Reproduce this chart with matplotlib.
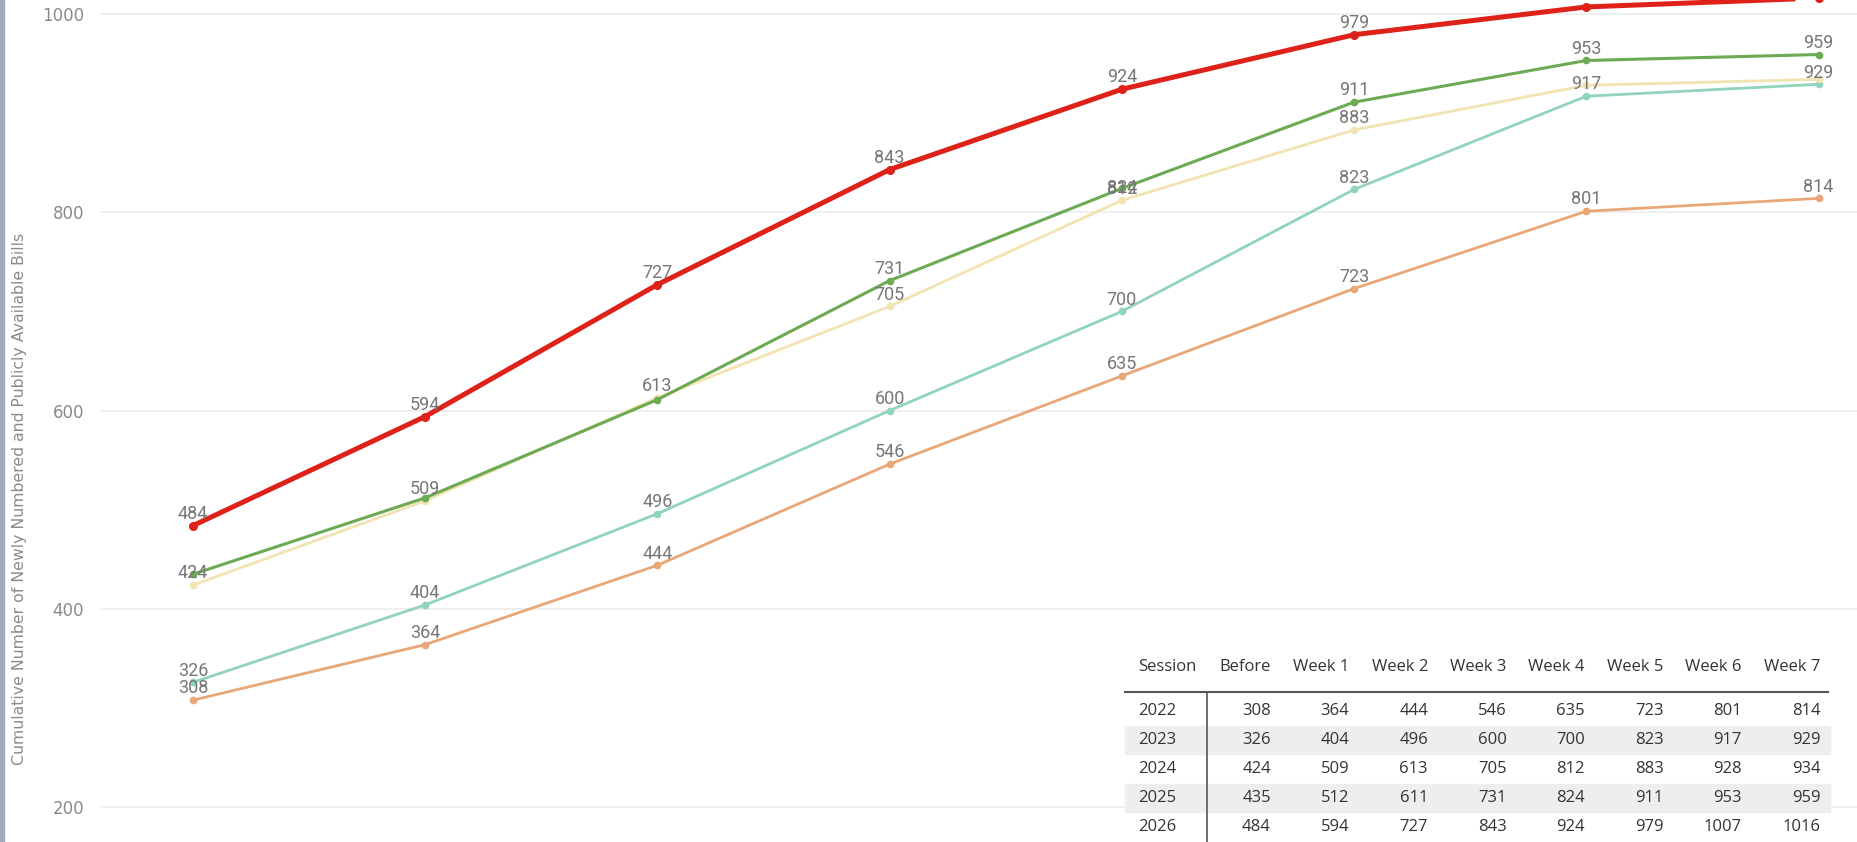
import matplotlib.pyplot as plt
from matplotlib.patches import Rectangle

# data
weeks = ['Before', 'Week 1', 'Week 2', 'Week 3', 'Week 4', 'Week 5', 'Week 6', 'Week 7']
sessions = ['2022', '2023', '2024', '2025', '2026']
s2022 = [308, 364, 444, 546, 635, 723, 801, 814]
s2023 = [326, 404, 496, 600, 700, 823, 917, 929]
s2024 = [424, 509, 613, 705, 812, 883, 928, 934]
s2025 = [435, 512, 611, 731, 824, 911, 953, 959]
s2026 = [484, 594, 727, 843, 924, 979, 1007, 1016]
y_ticks = [200, 400, 600, 800, 1000]

series = [s2022, s2023, s2024, s2025, s2026]
colors = ['#E9A676', '#90D4BB', '#F2E3B2', '#6CAA54', '#DE2119']
widths = [2.0, 2.0, 2.0, 2.2, 3.6]
# labels the original hides (overlapping points)
hidden = {('2025', 0), ('2025', 1), ('2025', 2), ('2024', 6), ('2024', 7)}
# labels drawn on the point instead of above it
centred = {('2025', 4)}

fig = plt.figure(figsize=(18.58, 8.42), dpi=100)
fig.patch.set_facecolor('white')
ax = fig.add_axes([100 / 1858, 0, 1 - 100 / 1858, 1])

x = list(range(len(weeks)))
for name, vals, c, lw in zip(sessions, series, colors, widths):
    ax.plot(x, vals, color=c, lw=lw, marker='o', ms=4.5 if lw < 3 else 5.5,
            mec=c, mfc=c, clip_on=False, zorder=3 if name == '2026' else 2)
    for i, v in enumerate(vals):
        if (name, i) in hidden:
            continue
        if (name, i) in centred:
            ax.annotate(str(v), (i, v), xytext=(0, 0), textcoords='offset points',
                        ha='center', va='center', fontsize=13, color='#777777',
                        family='Roboto', zorder=4)
        else:
            ax.annotate(str(v), (i, v), xytext=(0, 2), textcoords='offset points',
                        ha='center', va='bottom', fontsize=13, color='#777777',
                        family='Roboto', zorder=4)

ax.set_xlim(-0.4, 7.17)
ax.set_ylim(165, 1014)
ax.set_yticks(y_ticks)
ax.set_xticks([])
ax.grid(axis='y', color='#ececec', lw=1.2)
ax.set_axisbelow(True)
for sp in ax.spines.values():
    sp.set_visible(False)
ax.tick_params(axis='y', length=0, pad=11.5, labelsize=12, labelcolor='#8a8a8a')

fig.text(20 / 1858, 1 - 499 / 842, 'Cumulative Number of Newly Numbered and Publicly Available Bills',
         rotation=90, ha='center', va='center', fontsize=11.3, color='#8a8a8a')

# left border strip
fig.patches.append(Rectangle((0, 0), 4 / 1858, 1, transform=fig.transFigure,
                             color='#a3a9ba', zorder=0))

# data table in the bottom right corner
W, H = 1858, 842
tf = 'Open Sans'
fs = 12
col_right = [1271 + 78.5 * k for k in range(len(weeks))]
row_y = [711, 740, 769, 798, 827]
header_y = 667
for ry, shade in zip(row_y, [False, True, False, True, False]):
    if shade:
        fig.patches.append(Rectangle((1125 / W, 1 - (ry + 14) / H), 705 / W, 28 / H,
                                     transform=fig.transFigure, color='#eeeeee', zorder=5))
fig.add_artist(plt.Line2D([1125 / W, 1828 / W], [1 - 692 / H] * 2, color='#555555', lw=1.5,
                          transform=fig.transFigure, zorder=6))
fig.add_artist(plt.Line2D([1207 / W] * 2, [1 - 692 / H, 0], color='#555555', lw=1.2,
                          transform=fig.transFigure, zorder=6))
fig.text(1138 / W, 1 - header_y / H, 'Session', ha='left', va='center', fontsize=fs,
         color='#333333', family=tf, zorder=7)
for w, cx in zip(weeks, col_right):
    fig.text(cx / W, 1 - header_y / H, w, ha='right', va='center', fontsize=fs,
             color='#333333', family=tf, zorder=7)
for name, vals, ry in zip(sessions, series, row_y):
    fig.text(1138 / W, 1 - ry / H, name, ha='left', va='center', fontsize=fs,
             color='#333333', family=tf, zorder=7)
    for v, cx in zip(vals, col_right):
        fig.text(cx / W, 1 - ry / H, str(v), ha='right', va='center', fontsize=fs,
                 color='#333333', family=tf, zorder=7)

fig.savefig('out.png', dpi=100)
